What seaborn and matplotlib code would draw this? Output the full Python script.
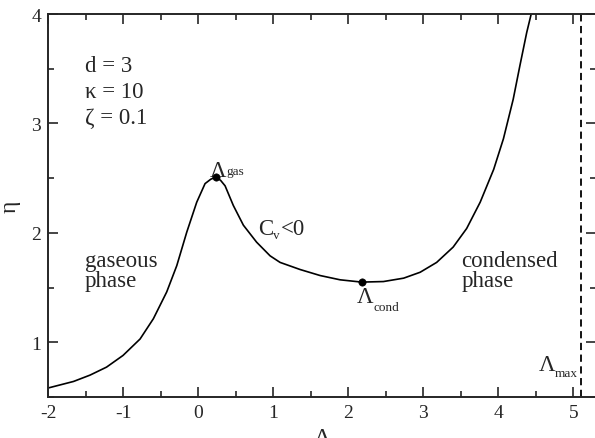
import seaborn as sns
import matplotlib.pyplot as plt
import pandas as pd
from matplotlib.ticker import MultipleLocator

# curve
lam = [-2.0, -1.66, -1.44, -1.22, -1.0, -0.773, -0.596, -0.418, -0.284,
       -0.151, -0.018, 0.093, 0.169, 0.236, 0.30, 0.36, 0.47, 0.604, 0.78,
       0.96, 1.093, 1.36, 1.627, 1.893, 2.18, 2.47, 2.74, 2.96, 3.18, 3.40,
       3.58, 3.76, 3.94, 4.07, 4.20, 4.29, 4.38, 4.44, 4.5]
eta = [0.582, 0.642, 0.70, 0.773, 0.88, 1.03, 1.215, 1.46, 1.70,
       2.006, 2.28, 2.45, 2.49, 2.51, 2.48, 2.43, 2.25, 2.07, 1.915,
       1.79, 1.73, 1.665, 1.61, 1.571, 1.55, 1.555, 1.586, 1.64, 1.73, 1.87,
       2.04, 2.28, 2.58, 2.86, 3.22, 3.53, 3.83, 4.0, 4.2]

pt_lam = [0.236, 2.18]
pt_eta = [2.51, 1.55]
lam_max = 5.1

params = ["d = 3", "κ = 10", "ζ = 0.1"]

df = pd.DataFrame({"lam": lam, "eta": eta})
pts = pd.DataFrame({"lam": pt_lam, "eta": pt_eta})

sns.set_style("ticks")
plt.rcParams["font.family"] = ["Liberation Serif", "DejaVu Serif"]
plt.rcParams["axes.unicode_minus"] = False

fig = plt.figure(figsize=(5.95, 4.39), dpi=100)
ax = fig.add_axes([0.0807, 0.0934, 0.9205, 0.8724])

sns.lineplot(data=df, x="lam", y="eta", ax=ax, color="black", lw=1.2,
             sort=False, estimator=None)
sns.scatterplot(data=pts, x="lam", y="eta", ax=ax, color="black", s=28,
                edgecolor="black", zorder=5)
ax.axvline(lam_max, color="black", lw=1.3, ls=(0, (4, 2.5)))

ax.set_xlim(-2, 5.3)
ax.set_ylim(0.5, 4)
ax.xaxis.set_major_locator(MultipleLocator(1))
ax.xaxis.set_minor_locator(MultipleLocator(0.5))
ax.yaxis.set_major_locator(MultipleLocator(1))
ax.yaxis.set_minor_locator(MultipleLocator(0.5))
ax.tick_params(which="both", direction="in", top=True, right=True,
               labelsize=14, width=1.2, pad=5)
ax.tick_params(which="major", length=7.5)
ax.tick_params(which="minor", length=4)
for s in ax.spines.values():
    s.set_linewidth(1.4)

ax.set_xlabel("Λ", fontsize=17)
ax.set_ylabel("η", fontsize=17)
ax.xaxis.set_label_coords(0.5, -0.078)
ax.yaxis.set_label_coords(-0.05, 0.5)

fs = 16.5
sub = 9.5
for i, t in enumerate(params):
    ax.text(-1.51, 3.48 - 0.24 * i, t, fontsize=fs, va="baseline")

# Λ labels with small dropped subscripts
ax.text(0.16, 2.52, "Λ", fontsize=fs, va="baseline")
ax.text(0.375, 2.54, "gas", fontsize=sub, va="baseline")
ax.text(2.12, 1.37, "Λ", fontsize=fs, va="baseline")
ax.text(2.335, 1.297, "cond", fontsize=sub, va="baseline")
ax.text(4.54, 0.75, "Λ", fontsize=fs, va="baseline")
ax.text(4.755, 0.694, "max", fontsize=sub, va="baseline")

ax.text(0.80, 1.99, "C", fontsize=fs, va="baseline")
ax.text(1.0, 1.954, "v", fontsize=sub, va="baseline")
ax.text(1.10, 1.99, "<0", fontsize=fs, va="baseline")

ax.text(-1.51, 1.70, "gaseous", fontsize=fs, va="baseline")
ax.text(-1.51, 1.51, "phase", fontsize=fs, va="baseline")
ax.text(3.51, 1.70, "condensed", fontsize=fs, va="baseline")
ax.text(3.51, 1.51, "phase", fontsize=fs, va="baseline")

fig.savefig("out.png", dpi=100)
